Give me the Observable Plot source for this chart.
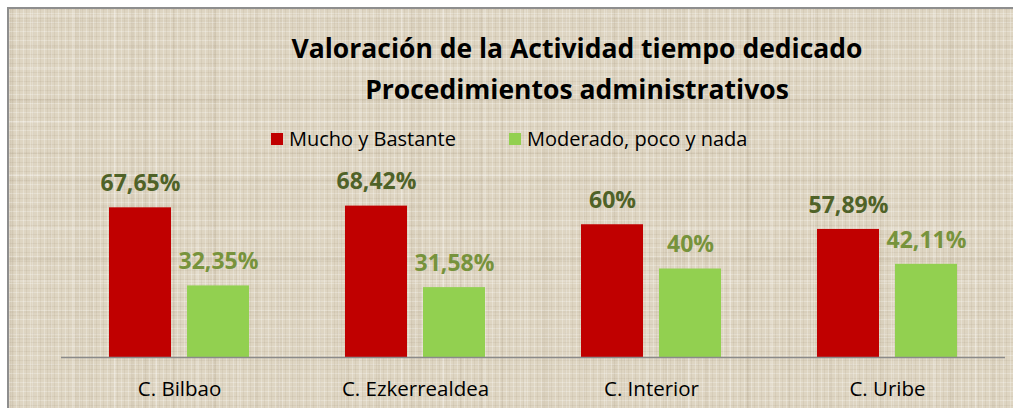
<!DOCTYPE html>
<html>
<head>
<meta charset="utf-8">
<script src="https://cdn.jsdelivr.net/npm/d3@7"></script>
<script src="https://cdn.jsdelivr.net/npm/@observablehq/plot@0.6"></script>
<style>
  html, body { margin: 0; padding: 0; background: #fff; width: 1013px; height: 408px; overflow: hidden; }
  body { position: relative; font-family: "Open Sans", Lato, sans-serif; }
  #frame {
    position: absolute; left: 7px; top: 7px; width: 1010px; height: 410px;
    border-left: 2px solid #8e8e8e; border-top: 2px solid #8e8e8e;
    background-color: #ded5c2;
    background-image:
      repeating-linear-gradient(90deg, rgba(255,255,255,0.25) 0 1px, transparent 1px 3px, rgba(120,100,70,0.08) 3px 4px, transparent 4px 7px),
      repeating-linear-gradient(0deg, rgba(255,255,255,0.25) 0 1px, transparent 1px 4px, rgba(120,100,70,0.08) 4px 5px, transparent 5px 9px),
      repeating-linear-gradient(90deg, rgba(110,90,60,0.06) 0 2px, transparent 2px 23px, rgba(255,255,255,0.18) 23px 25px, transparent 25px 41px),
      repeating-linear-gradient(0deg, rgba(110,90,60,0.05) 0 2px, transparent 2px 31px, rgba(255,255,255,0.18) 31px 33px, transparent 33px 53px),
      repeating-linear-gradient(90deg, rgba(110,90,60,0.04) 0 5px, transparent 5px 67px),
      repeating-linear-gradient(0deg, rgba(110,90,60,0.04) 0 4px, transparent 4px 79px);
  }
  #title {
    position: absolute; left: 577px; top: 28px; transform: translateX(-50%);
    white-space: nowrap; text-align: center; font-weight: bold; font-size: 26.5px;
    line-height: 41px; color: #000;
  }
  #legend {
    position: absolute; left: 271px; top: 125px; font-size: 20px; color: #000;
    display: flex; align-items: center; white-space: nowrap;
  }
  #legend .sw { width: 12px; height: 12px; display: inline-block; margin-right: 6px; }
  #legend .item { display: flex; align-items: center; }
  #chart { position: absolute; left: 0; top: 155px; }
  #chart svg { overflow: visible; background: transparent; }
</style>
</head>
<body>
<div id="frame"></div>
<div id="title"></div>
<div id="legend"></div>
<div id="chart"></div>
<script>
const categories = ["C. Bilbao", "C. Ezkerrealdea", "C. Interior", "C. Uribe"];
const seriesNames = ["Mucho y Bastante", "Moderado, poco y nada"];
const muchoValues = [67.65, 68.42, 60, 57.89];
const moderadoValues = [32.35, 31.58, 40, 42.11];
const barColors = ["#c00000", "#92d050"];
const labelColors = ["#4f6228", "#77933c"];
const titleLines = ["Valoración de la Actividad tiempo dedicado", "Procedimientos administrativos"];

document.getElementById("title").innerHTML = titleLines.join("<br>");
const legend = document.getElementById("legend");
seriesNames.forEach((s, i) => {
  const it = document.createElement("span");
  it.className = "item";
  if (i > 0) it.style.marginLeft = "53px";
  it.innerHTML = `<span class="sw" style="background:${barColors[i]}"></span>${s}`;
  legend.appendChild(it);
});

const data = [];
categories.forEach((c, i) => {
  data.push({cat: c, series: seriesNames[0], value: muchoValues[i]});
  data.push({cat: c, series: seriesNames[1], value: moderadoValues[i]});
});
const fmt = v => String(v).replace(".", ",") + "%";

const chart = Plot.plot({
  width: 1013,
  height: 253,
  marginLeft: 60,
  marginRight: 7,
  marginTop: 25,
  marginBottom: 51,
  style: {background: "transparent", fontFamily: "'Open Sans', Lato, sans-serif"},
  fx: {domain: categories, padding: 0, label: null},
  x: {domain: seriesNames, paddingInner: 0.2025, paddingOuter: 0.595, axis: null},
  y: {domain: [0, 80], axis: null},
  color: {domain: seriesNames, range: barColors},
  marks: [
    Plot.barY(data, {fx: "cat", x: "series", y: "value", fill: "series",
      style: "filter: drop-shadow(2px 2px 1.5px rgba(0,0,0,0.25))"}),
    Plot.ruleY([0], {stroke: "#8a8a8a", strokeWidth: 1.5}),
    Plot.text(data, {fx: "cat", x: "series", y: "value", text: d => fmt(d.value),
      fill: d => labelColors[seriesNames.indexOf(d.series)],
      dy: -24, fontSize: 23, fontWeight: "bold", lineAnchor: "middle"}),
    Plot.axisFx({anchor: "bottom", tickSize: 0, tickPadding: 24, fontSize: 20.5, label: null, fill: "#000"})
  ]
});
document.getElementById("chart").appendChild(chart);
</script>
</body>
</html>
